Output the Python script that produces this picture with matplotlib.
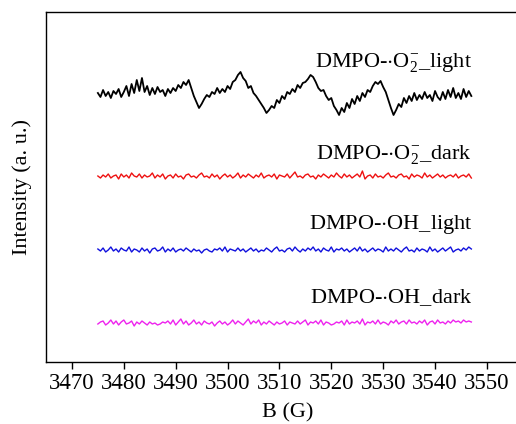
import numpy as np
import matplotlib
matplotlib.use("Agg")
import matplotlib.pyplot as plt

plt.rcParams['font.family'] = ['Liberation Serif', 'DejaVu Serif']
plt.rcParams['mathtext.fontset'] = 'custom'
plt.rcParams['mathtext.rm'] = 'Liberation Serif'
plt.rcParams['mathtext.it'] = 'Liberation Serif:italic'

# field sweep 3475 - 3547 G (arb. units, relative to each trace baseline)
b_start, b_end = 3475, 3547

o2_light = [1, -3, 4, -2, 2, -4, 3, 0, 5, -3, 2, 8, -2, 10, 1, 14, 3, 16, 2, 8,
            -1, 6, 0, 7, 2, 4, -2, 5, 1, 6, 3, 9, 6, 12, 9, 14, 6, -2, -8, -14,
            -10, -5, -1, -3, 2, 0, 6, 1, 5, 2, 8, 5, 12, 14, 19, 22, 16, 13, 6, 8,
            1, -2, -6, -10, -14, -19, -16, -12, -14, -6, -9, -2, -5, 2, 0, 5, 2, 9, 6, 11,
            12, 15, 19, 17, 12, 6, 3, 4, -2, -6, -4, -12, -16, -21, -14, -18, -9, -14, -5, -10,
            -2, -7, 1, -3, 4, 2, 8, 12, 10, 13, 7, 2, -6, -14, -21, -16, -10, -13, -4, -9,
            -2, -7, 1, -6, -1, -5, 2, -4, -1, -7, 3, -3, -6, 2, -5, 4, -3, 6, -4, 1,
            -5, 5, -3, 3, -2]

o2_dark = [0, -2, 1, -1, 2, -2, 0, 1, -3, 2, -1, 1, -2, 3, 0, -1, 2, -2, 1, -1,
           0, 3, -2, 1, -1, 2, -3, 0, 1, -2, 2, -1, 0, -3, 1, 2, -1, 0, -2, 1,
           3, -1, 0, -2, 2, -1, 1, -3, 0, 2, -1, 1, -2, 0, 3, -2, 1, -1, 2, 0,
           -2, 1, -1, 3, -2, 0, 1, -1, 2, -3, 1, 0, -1, 2, -2, 1, 4, -1, 0, -2,
           1, 2, -1, 0, -3, 1, -1, 2, 0, -2, 1, -1, 3, 0, -2, 2, -1, 1, -2, 0,
           2, -1, 5, -3, 0, 1, -2, 2, -1, 0, -2, 1, 3, -1, 0, -2, 1, 2, -1, 0,
           -3, 2, -1, 1, 0, -2, 3, -1, 1, -2, 0, 2, -1, 1, -2, 0, 1, -1, 2, -2,
           0, 1, -1, 2, -2]

oh_light = [1, -1, 2, -2, 0, 3, -1, 1, -2, 2, 0, -1, 3, -2, 1, 0, -2, 2, -1, 1,
            -3, 1, 2, -1, 0, 3, -2, 1, -1, 2, -2, 0, 1, -1, 2, 0, -2, 1, -1, 0,
            -3, 0, 1, -1, -2, 1, 0, 2, -1, 3, -2, 1, 0, -1, 2, -1, 1, -2, 0, 2,
            -1, 1, -2, 0, -1, 2, 0, -2, 1, 3, -1, 0, -2, 1, 2, -1, 3, 0, -2, 1,
            -1, 2, 0, 3, -1, 1, -2, 2, 0, -1, 3, -2, 1, 0, 2, -1, 1, -2, 0, 2,
            -1, 3, -1, 1, -2, 0, 2, -1, 1, 0, -2, 3, -1, 1, -1, 2, 0, -2, 1, 3,
            -1, 0, -2, 2, -1, 1, 0, -2, 3, -1, 1, -2, 0, 2, -1, 1, 3, -2, 0, 1,
            -1, 2, 0, 3, 1]

oh_dark = [-1, 1, 2, -2, 0, 3, -1, 2, -2, 1, 3, -1, 0, 2, -3, 1, -1, 2, 0, -2,
           1, -1, 0, -2, -1, 1, 0, 2, -1, 3, -2, 1, 4, -1, 2, -2, 0, 3, -1, 1,
           -2, 2, 0, -1, 1, -3, 0, 2, -1, 1, -2, 0, 3, -1, 2, 0, -2, 1, 4, -1,
           2, 0, 3, -2, 1, -1, 2, 0, -2, 1, -1, 0, 2, -2, 1, 0, -1, 2, -1, 1,
           3, -2, 1, 0, 2, -1, 3, -2, 1, 0, -2, -1, 1, 0, 2, -2, 3, -1, 1, 0,
           2, -1, 4, -2, 1, 0, 2, -1, 3, -1, 1, 0, -2, 2, 0, 3, -1, 1, 2, -1,
           3, 0, 1, -1, 2, 0, 3, -2, 1, 2, -1, 3, 0, 1, -1, 2, 0, 3, 1, 2,
           0, 3, 1, 2, 1]

labels = [r'DMPO-$\cdot$O$_2^{-}$_light', r'DMPO-$\cdot$O$_2^{-}$_dark',
          r'DMPO-$\cdot$OH_light', r'DMPO-$\cdot$OH_dark']
colors = ['black', '#ee1111', '#1111dd', '#ee22ee']
widths = [1.3, 1.0, 1.0, 1.0]
series = [o2_light, o2_dark, oh_light, oh_dark]

# vertical stacking of the traces and their labels
offsets = [268, 186, 112, 39]
label_y = [300, 207, 137, 64]

fig = plt.figure(figsize=(5.16, 4.24), dpi=100)
ax = fig.add_axes([46 / 516, 62 / 424, 482.4 / 516, 350 / 424])

for vals, off, col, lw, lab, ly in zip(series, offsets, colors, widths, labels, label_y):
    vals = np.array(vals, dtype=float)
    b = np.linspace(b_start, b_end, len(vals))
    ax.plot(b, vals + off, color=col, lw=lw)
    ax.text(3547.2, ly, lab, ha='right', va='center', fontsize=16)

ax.set_xlim(3465, 3558)
ax.set_ylim(0, 350)
ax.set_xticks(np.arange(3470, 3551, 10))
ax.set_yticks([])
ax.tick_params(axis='x', direction='out', length=5, width=1, labelsize=16.5, pad=3)
for s in ax.spines.values():
    s.set_linewidth(1.0)
ax.set_xlabel('B (G)', fontsize=16, labelpad=6.5)
ax.set_ylabel('Intensity (a. u.)', fontsize=16, labelpad=10)

fig.savefig('out.png', dpi=100)
